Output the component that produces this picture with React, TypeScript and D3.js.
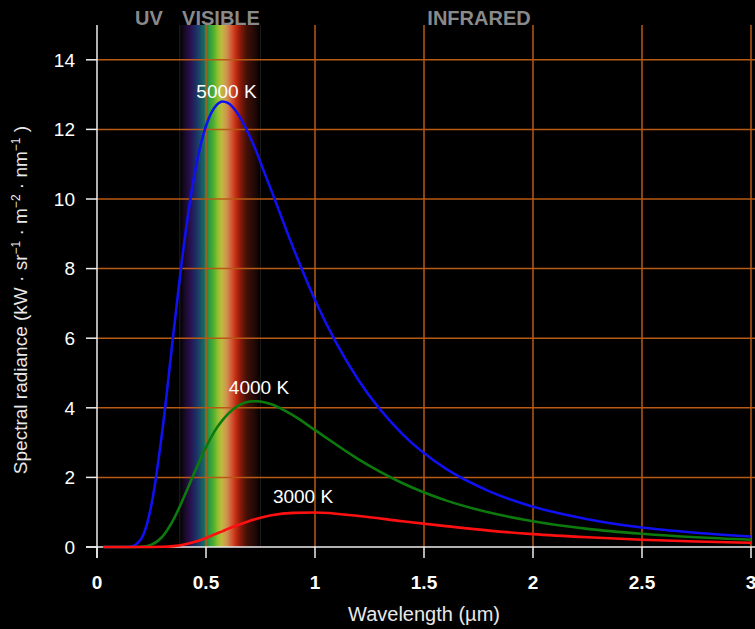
import React from "react";
import { scaleLinear, line, curveMonotoneX } from "d3";

// wavelength in micrometres, radiance in kW·sr⁻¹·m⁻²·nm⁻¹
const wavelengths = [
  0.03, 0.1, 0.15, 0.2, 0.25, 0.3, 0.35, 0.4, 0.45, 0.5, 0.55, 0.575, 0.6,
  0.65, 0.7, 0.725, 0.75, 0.8, 0.9, 1.0, 1.2, 1.4, 1.6, 1.8, 2.0, 2.25, 2.5,
  2.75, 3.0,
];
const t5000 = [
  0, 0, 0.007, 0.21, 1.22, 3.35, 6.1, 8.74, 10.8, 12.1, 12.71, 12.8, 12.76,
  12.41, 11.81, 11.46, 11.05, 10.24, 8.6, 7.1, 4.79, 3.25, 2.25, 1.6, 1.16,
  0.8, 0.56, 0.41, 0.3,
];
const t4000 = [
  0, 0, 0, 0.006, 0.069, 0.3, 0.78, 1.45, 2.18, 2.87, 3.43, 3.64, 3.82, 4.07,
  4.18, 4.19, 4.18, 4.1, 3.78, 3.36, 2.52, 1.84, 1.34, 0.99, 0.74, 0.52, 0.38,
  0.28, 0.21,
];
const t3000 = [
  0, 0, 0, 0, 0.001, 0.006, 0.025, 0.072, 0.15, 0.26, 0.39, 0.45, 0.52, 0.64,
  0.75, 0.8, 0.84, 0.91, 0.98, 0.99, 0.89, 0.74, 0.6, 0.47, 0.37, 0.28, 0.21,
  0.16, 0.12,
];
const seriesNames = ["5000 K", "4000 K", "3000 K"];
const xTicks = [0, 0.5, 1, 1.5, 2, 2.5, 3];
const yTicks = [0, 2, 4, 6, 8, 10, 12, 14];
const visibleRange = [0.38, 0.75];

// spectrum colour stops (wavelength, colour)
const spectrumStops: [number, string][] = [
  [0.38, "#000000"],
  [0.4, "#160922"],
  [0.427, "#28104e"],
  [0.45, "#1e2a62"],
  [0.472, "#1a4a6a"],
  [0.491, "#1a6a5c"],
  [0.514, "#2a9a40"],
  [0.537, "#56b030"],
  [0.555, "#94c030"],
  [0.573, "#c2b840"],
  [0.596, "#d09050"],
  [0.619, "#d05432"],
  [0.638, "#c22a10"],
  [0.661, "#801808"],
  [0.688, "#401008"],
  [0.725, "#200806"],
  [0.75, "#000000"],
];

const W = 755;
const H = 629;
const font = "'Liberation Sans', Arial, Helvetica, sans-serif";
const gridColor = "#b85a14";

export default function App() {
  const x = scaleLinear().domain([0, 3]).range([97, 751]);
  const y = scaleLinear().domain([0, 15]).range([547, 25]);

  const mk = (vals: number[]) =>
    line<number>()
      .x((_, i) => x(wavelengths[i]))
      .y((d) => y(d))
      .curve(curveMonotoneX)(vals) as string;

  const curves = [
    { vals: t5000, color: "#1010f0", label: seriesNames[0], lx: 0.594, ly: 12.9 },
    { vals: t4000, color: "#0c7a0c", label: seriesNames[1], lx: 0.743, ly: 4.4 },
    { vals: t3000, color: "#ff1010", label: seriesNames[2], lx: 0.945, ly: 1.26 },
  ];

  const sup = (s: string) => (
    <>
      <tspan dy={-7} fontSize={12}>
        {s}
      </tspan>
      <tspan dy={7}> </tspan>
    </>
  );

  return (
    <svg
      width={W}
      height={H}
      style={{ position: "absolute", left: 0, top: 0, display: "block", background: "#000" }}
      fontFamily={font}
    >
      <defs>
        <linearGradient
          id="spectrum"
          gradientUnits="userSpaceOnUse"
          x1={x(visibleRange[0])}
          x2={x(visibleRange[1])}
          y1={0}
          y2={0}
        >
          {spectrumStops.map(([w, c]) => (
            <stop
              key={w}
              offset={(w - visibleRange[0]) / (visibleRange[1] - visibleRange[0])}
              stopColor={c}
            />
          ))}
        </linearGradient>
      </defs>
      <rect width={W} height={H} fill="#000" />

      {/* visible band */}
      <rect
        x={x(visibleRange[0])}
        y={y(15)}
        width={x(visibleRange[1]) - x(visibleRange[0])}
        height={y(0) - y(15)}
        fill="url(#spectrum)"
      />
      <line x1={x(visibleRange[0])} x2={x(visibleRange[0])} y1={y(15)} y2={y(0)} stroke="#222" />
      <line x1={x(visibleRange[1])} x2={x(visibleRange[1])} y1={y(15)} y2={y(0)} stroke="#1a1a1a" />

      {/* grid */}
      {yTicks
        .filter((t) => t > 0)
        .map((t) => (
          <line key={"gy" + t} x1={x(0)} x2={W} y1={y(t)} y2={y(t)} stroke={gridColor} strokeWidth={1.5} />
        ))}
      {xTicks
        .filter((t) => t > 0)
        .map((t) => (
          <line key={"gx" + t} x1={x(t)} x2={x(t)} y1={y(15)} y2={y(0)} stroke={gridColor} strokeWidth={1.5} />
        ))}

      {/* axes */}
      <line x1={x(0)} x2={x(0)} y1={y(15)} y2={y(0) + 11} stroke="#eee" strokeWidth={1.5} />
      <line x1={x(0) - 11} x2={W} y1={y(0)} y2={y(0)} stroke="#eee" strokeWidth={1.5} />
      {yTicks.map((t) => (
        <g key={"ty" + t} transform={`translate(0, ${y(t)})`}>
          <line x1={x(0) - 11} x2={x(0)} stroke="#eee" strokeWidth={1.5} />
          <text x={75} dy="0.36em" textAnchor="end" fill="#fff" fontSize={19}>
            {t}
          </text>
        </g>
      ))}
      {xTicks.map((t) => (
        <g key={"tx" + t} transform={`translate(${x(t)}, 0)`}>
          <line y1={y(0)} y2={y(0) + 11} stroke="#eee" strokeWidth={1.5} />
          <text y={589} textAnchor="middle" fill="#fff" fontSize={19} fontWeight="bold">
            {t}
          </text>
        </g>
      ))}

      {/* curves */}
      {curves.map((c) => (
        <path key={c.label} d={mk(c.vals)} fill="none" stroke={c.color} strokeWidth={2.6} />
      ))}
      {curves.map((c) => (
        <text
          key={"l" + c.label}
          x={x(c.lx)}
          y={y(c.ly)}
          textAnchor="middle"
          fill="#fff"
          fontSize={19}
        >
          {c.label}
        </text>
      ))}

      {/* region labels */}
      <text x={149} y={25} textAnchor="middle" fill="#8a8a8a" fontSize={20} fontWeight="bold">
        UV
      </text>
      <text x={221} y={25} textAnchor="middle" fill="#8a8a8a" fontSize={20} fontWeight="bold">
        VISIBLE
      </text>
      <text x={479} y={25} textAnchor="middle" fill="#8a8a8a" fontSize={20} fontWeight="bold">
        INFRARED
      </text>

      {/* axis titles */}
      <text x={424} y={621} textAnchor="middle" fill="#e8e8e8" fontSize={20}>
        Wavelength (µm)
      </text>
      <text transform="translate(27, 300) rotate(-90)" textAnchor="middle" fill="#e8e8e8" fontSize={19}>
        Spectral radiance (kW · sr{sup("−1")}· m{sup("−2")}· nm{sup("−1")}
        <tspan>)</tspan>
      </text>
    </svg>
  );
}
